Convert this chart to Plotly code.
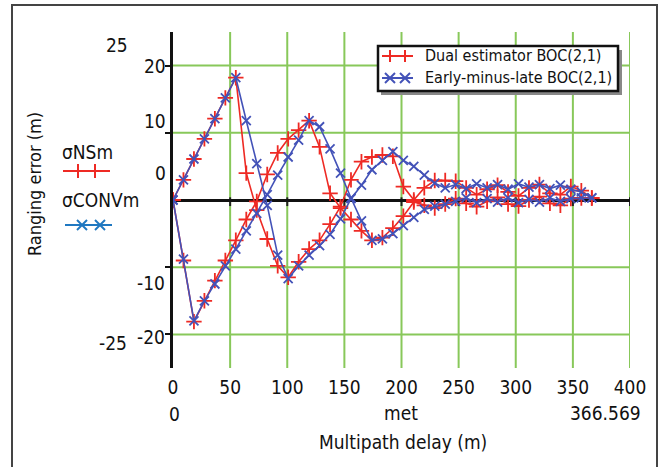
import numpy as np
import plotly.graph_objects as go

# ---- data ----
max_delay = 366.569
n_steps = 40
delay = np.linspace(0, max_delay, n_steps + 1)

dual_upper = [0, 3.0, 6.1, 9.1, 12.1, 15.2, 18.2, 4.0, -1.5, -5.8, -9.8, -11.5, -9.2, -7.3, -6.0, -3.6,
              -1.0, 3.0, 5.7, 6.4, 6.7, 6.5, 2.0, 0.0, 1.8, 2.9, 2.9, 2.8, 1.8, 0.8, 1.6, 2.2, 1.2,
              0.6, 1.8, 2.3, 1.0, 0.8, 2.0, 1.4, 0.3]
dual_lower = [0, -9.0, -18.1, -15.0, -12.0, -9.0, -6.0, -2.9, -0.2, 3.8, 7.0, 9.1, 10.4, 11.8, 7.9, 1.0,
              -1.2, -2.9, -4.6, -6.0, -5.6, -4.2, -2.4, -0.3, -0.8, -1.2, -0.6, 0.2, -0.5, -1.0, -0.2,
              0.4, -0.6, -0.9, 0.0, 0.5, -0.5, -0.8, 0.2, 0.3, 0.3]
eml_upper = [0, 3.0, 6.1, 9.1, 12.1, 15.2, 18.2, 11.8, 5.4, -0.8, -8.2, -11.7, -9.8, -8.2, -6.8, -5.1,
             -2.8, 0.2, 2.2, 4.5, 5.9, 7.2, 5.9, 5.0, 3.7, 2.5, 1.8, 2.3, 1.7, 2.4, 1.8, 2.3, 1.6,
             2.4, 1.9, 2.3, 1.7, 2.2, 1.6, 1.2, 0.3]
eml_lower = [0, -8.8, -18.0, -15.0, -12.5, -9.8, -7.3, -4.6, -2.0, 0.8, 3.7, 6.4, 8.9, 11.8, 10.9, 7.6,
             4.0, 0.3, -3.1, -6.0, -5.8, -5.0, -3.8, -2.6, -1.4, -0.9, -0.6, -0.2, 0.3, -0.4, 0.2,
             -0.3, 0.3, -0.4, 0.1, -0.3, 0.3, -0.2, 0.2, 0.3, 0.3]

x_ticks = [0, 50, 100, 150, 200, 250, 300, 350, 400]
y_grid = [-20, -10, 10, 20]
names = ["Dual estimator BOC(2,1)", "Early-minus-late BOC(2,1)"]

FONT = "DejaVu Sans Condensed, Liberation Sans Narrow, sans-serif"
RED = "#ee2a24"
BLUE = "#4352b8"
GREEN = "#88c85a"
LBLUE = "#1f78c1"

# plot area in pixels
L, R, T, B = 173, 630, 32, 368
W, H = 664, 467


def px(xp):
    return (xp - L) / (R - L)


def py(yp):
    return (B - yp) / (B - T)


fig = go.Figure()

path_x = list(delay) + list(delay[::-1])
fig.add_trace(go.Scatter(
    x=path_x, y=dual_upper + dual_lower[::-1], name=names[0], mode="lines+markers",
    line=dict(color=RED, width=1.6),
    marker=dict(symbol="cross-thin", size=11, line=dict(color=RED, width=1.8)),
))
fig.add_trace(go.Scatter(
    x=path_x, y=eml_upper + eml_lower[::-1], name=names[1], mode="lines+markers",
    line=dict(color=BLUE, width=1.6),
    marker=dict(symbol="x-thin", size=9, line=dict(color=BLUE, width=1.8)),
))

shapes = []


def pline(x0, y0, x1, y1, color, width=2):
    shapes.append(dict(type="line", xref="paper", yref="paper", x0=px(x0), x1=px(x1),
                       y0=py(y0), y1=py(y1), line=dict(color=color, width=width)))


def plus(cx, cy, color, h=7):
    pline(cx - h, cy, cx + h, cy, color)
    pline(cx, cy - h, cx, cy + h, color)


def cross(cx, cy, color, h=5):
    pline(cx - h, cy - h, cx + h, cy + h, color)
    pline(cx - h, cy + h, cx + h, cy - h, color)


# green grid
for xv in x_ticks[1:]:
    shapes.append(dict(type="line", xref="x", yref="paper", x0=xv, x1=xv, y0=0, y1=1,
                       line=dict(color=GREEN, width=2), layer="below"))
for yv in y_grid:
    shapes.append(dict(type="line", xref="paper", yref="y", x0=0, x1=1, y0=yv, y1=yv,
                       line=dict(color=GREEN, width=2), layer="below"))
# small ticks on the zero line
for xv in x_ticks[1:]:
    shapes.append(dict(type="line", xref="x", yref="y", x0=xv, x1=xv, y0=0.4, y1=-0.9,
                       line=dict(color="#222", width=2), layer="below"))
# outer frame
shapes.append(dict(type="rect", xref="paper", yref="paper", x0=px(12), x1=px(657),
                   y0=py(480), y1=py(5), line=dict(color="#444", width=2)))

# boxed legend (top right), drawn Mathcad style
shapes.append(dict(type="rect", xref="paper", yref="paper", x0=px(381), x1=px(622),
                   y0=py(95), y1=py(50), line=dict(width=0), fillcolor="#888"))
shapes.append(dict(type="rect", xref="paper", yref="paper", x0=px(378), x1=px(618),
                   y0=py(91), y1=py(46), line=dict(color="#111", width=2.5), fillcolor="white"))
pline(382, 56, 413, 56, RED)
plus(390, 56, RED, 6)
plus(405, 56, RED, 6)
pline(382, 78, 413, 78, BLUE)
cross(390, 78, BLUE, 5)
cross(405, 78, BLUE, 5)

# left-side legend samples (Mathcad style)
pline(63, 171, 110, 171, RED)
plus(78, 171, RED)
plus(95, 171, RED)
pline(65, 225, 112, 225, LBLUE)
cross(82, 225, LBLUE)
cross(100, 225, LBLUE)

annotations = []


def text(t, xp, yp, size=19, xanchor="center", angle=0):
    annotations.append(dict(text=t, xref="paper", yref="paper", x=px(xp), y=py(yp),
                            xanchor=xanchor, yanchor="middle", showarrow=False,
                            textangle=angle, font=dict(family=FONT, size=size, color="#111")))


# y labels (as placed in the reference)
text("25", 130, 45, xanchor="right")
text("20", 168, 66, xanchor="right")
text("10", 168, 121, xanchor="right")
text("0", 168, 173, xanchor="right")
text("-10", 167, 283, xanchor="right")
text("-20", 167, 337, xanchor="right")
text("-25", 129, 343, xanchor="right")
# second row under x axis
text("0", 174, 414)
text("met", 401, 413)
text("366.569", 643, 413, xanchor="right")
# axis titles
text("Multipath delay (m)", 403, 442, size=19)
text("Ranging error (m)", 35, 184, size=18, angle=-90)
# left legend labels
text("σNSm", 60, 152, size=19, xanchor="left")
text("σCONVm", 60, 200, size=19, xanchor="left")
# boxed legend labels
text(names[0], 423, 56, size=16, xanchor="left")
text(names[1], 423, 78, size=16, xanchor="left")

fig.update_layout(
    width=W, height=H,
    margin=dict(l=L, r=W - R, t=T, b=H - B),
    paper_bgcolor="white", plot_bgcolor="white",
    font=dict(family=FONT, size=19, color="#111"),
    showlegend=False,
    xaxis=dict(range=[0, 400], tickvals=x_ticks, ticktext=[str(v) for v in x_ticks],
               showgrid=False, zeroline=False, showline=False, ticks="",
               tickfont=dict(family=FONT, size=19, color="#111"), ticklabelstandoff=6),
    yaxis=dict(range=[-25, 25], tickvals=y_grid, showticklabels=False, showgrid=False,
               zeroline=True, zerolinecolor="#111", zerolinewidth=3,
               showline=True, linecolor="#111", linewidth=3,
               ticks="outside", ticklen=5, tickwidth=2, tickcolor="#111"),
    shapes=shapes,
    annotations=annotations,
)

fig.write_html("out.html", config={"displayModeBar": False},
               post_script="document.body.style.margin='0';")
